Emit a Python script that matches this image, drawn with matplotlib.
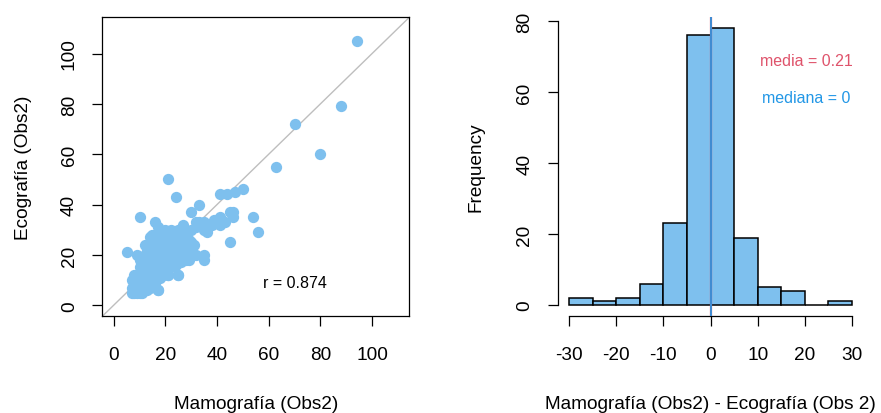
import matplotlib
matplotlib.use("Agg")
import matplotlib.pyplot as plt
import numpy as np

plt.rcParams["font.family"] = ["Liberation Sans", "DejaVu Sans"]

# Paired measurements (mm): mammography vs ultrasound, observer 2
mamografia = [
    7, 8, 9, 10, 11, 12, 8, 9, 10, 7, 11, 12, 8, 9, 10, 13, 14, 15, 13, 16,
    7, 9, 11, 12, 8, 10, 13, 14, 15, 17,
    10, 11, 12, 13, 14, 15, 16, 17, 18, 14, 15, 16, 17, 18, 19, 20, 12, 13,
    11, 12, 14, 15, 16, 17, 18, 19, 20, 21, 22, 13, 15, 16, 17, 18, 19, 20,
    21, 22, 23, 24, 11, 12, 10, 14, 16, 19, 21, 25,
    14, 15, 16, 17, 18, 19, 20, 21, 22, 23, 24, 25, 26, 18, 19, 20, 21, 22,
    23, 24, 25, 26, 27, 28, 29, 20, 22, 23, 24, 25, 26, 27, 28, 29, 30, 22,
    25, 26, 27, 28, 29, 30, 31, 24, 21, 19, 17, 16, 13, 20, 23, 18, 22, 26,
    27, 21, 24,
    12, 13, 14, 15, 16, 17, 18, 19, 20, 21, 22, 23, 24, 25, 26, 27, 20, 19,
    18, 17, 16, 15, 14, 13, 12, 11, 10, 9, 8, 23, 24, 21, 20, 19,
    15, 17, 16, 10, 5, 9, 12, 14, 30, 27, 32, 28, 32, 35, 35, 21, 25, 17,
    33, 30, 32, 33, 35, 35, 36, 38, 39, 41, 41, 43, 39, 41, 44, 47, 50, 45,
    46, 46, 54, 56, 45, 21, 24, 63, 70, 80, 88, 94,
]
ecografia = [
    5, 5, 5, 5, 5, 6, 6, 7, 7, 7, 8, 8, 9, 9, 10, 9, 7, 8, 6, 9,
    10, 11, 11, 12, 12, 13, 11, 12, 10, 6,
    15, 14, 15, 14, 15, 14, 13, 12, 11, 16, 17, 16, 17, 16, 15, 14, 17, 18,
    19, 20, 19, 20, 19, 20, 19, 18, 17, 16, 15, 22, 22, 23, 22, 21, 21, 20,
    19, 18, 17, 16, 16, 13, 18, 13, 11, 12, 12, 12,
    23, 25, 26, 25, 24, 24, 23, 22, 21, 20, 19, 18, 17, 27, 28, 27, 26, 25,
    24, 23, 22, 21, 20, 19, 18, 30, 29, 28, 27, 26, 25, 24, 23, 22, 21, 30,
    30, 29, 28, 27, 26, 25, 24, 25, 24, 22, 21, 18, 20, 25, 22, 23, 23, 23,
    26, 29, 29,
    10, 13, 10, 12, 14, 15, 14, 17, 16, 18, 20, 21, 22, 24, 24, 22, 22, 20,
    18, 18, 17, 16, 14, 16, 11, 10, 9, 8, 8, 26, 24, 21, 19, 19,
    28, 31, 33, 35, 21, 20, 24, 27, 37, 32, 33, 18, 20, 20, 18, 12, 12, 6,
    40, 30, 31, 33, 33, 30, 29, 32, 34, 35, 32, 33, 33, 44, 44, 45, 46, 37,
    37, 35, 35, 29, 25, 50, 43, 55, 72, 60, 79, 105,
]

# Histogram of differences (Mamografía - Ecografía), 5 mm bins
bin_edges = [-30, -25, -20, -15, -10, -5, 0, 5, 10, 15, 20, 25, 30]
bin_counts = [2, 1, 2, 6, 23, 76, 78, 19, 5, 4, 0, 1]
r_value = 0.874
media = 0.21
mediana = 0

sky = "#7EC0EE"
red = "#DF536B"
blue = "#2297E6"

W, H = 881, 414
fig = plt.figure(figsize=(W / 100, H / 100), dpi=100)


def px_axes(x0, y0, x1, y1):
    return fig.add_axes([x0 / W, 1 - y1 / H, (x1 - x0) / W, (y1 - y0) / H])


tick_fs = 13.7
lab_fs = 13.7
ann_fs = 11.5

# ---- Scatter plot ----
ax1 = px_axes(102.3, 18.3, 409.3, 317.3)
ax1.set_xlim(-4.4, 114.4)
ax1.set_ylim(-4.4, 114.4)
ax1.plot([-10, 130], [-10, 130], color="#BEBEBE", lw=1.0, zorder=1)
ax1.scatter(mamografia, ecografia, s=66, color=sky, linewidths=0, zorder=2)
ax1.text(70, 9, f"r = {r_value}", fontsize=ann_fs, ha="center", va="center")
ticks = [0, 20, 40, 60, 80, 100]
ax1.set_xticks(ticks)
ax1.set_yticks(ticks)
ax1.set_xticklabels([str(t) for t in ticks])
ax1.set_yticklabels([str(t) for t in ticks], rotation=90, va="center")
ax1.tick_params(axis="both", length=7.5, width=0.9, labelsize=tick_fs,
                direction="out")
ax1.tick_params(axis="x", pad=14)
ax1.tick_params(axis="y", pad=10)
for sp in ax1.spines.values():
    sp.set_linewidth(0.9)
ax1.set_xlabel("Mamografía (Obs2)", fontsize=lab_fs)
ax1.xaxis.set_label_coords(0.5, (317.3 - 405) / 299)
ax1.xaxis.label.set_verticalalignment("center")
ax1.set_ylabel("Ecografía (Obs2)", fontsize=lab_fs)
ax1.yaxis.set_label_coords((24 - 102.3) / 307, 0.5)
ax1.yaxis.label.set_verticalalignment("center")

# ---- Histogram ----
ax2 = px_axes(557.7, 18.3, 863.3, 317.0)
ax2.set_xlim(-32.4, 32.4)
ax2.set_ylim(-3.12, 81.12)
ax2.hist(bin_edges[:-1], bins=bin_edges, weights=bin_counts, color=sky,
         edgecolor="black", linewidth=1.1, zorder=2)
ax2.axvline(media, color=red, lw=1.6, zorder=3)
ax2.axvline(mediana, color=blue, lw=1.2, zorder=4)
ax2.text(20.3, 68.9, f"media = {media}", color=red, fontsize=ann_fs,
         ha="center", va="center")
ax2.text(20.3, 58.6, f"mediana = {mediana}", color=blue, fontsize=ann_fs,
         ha="center", va="center")
for s in ("top", "right"):
    ax2.spines[s].set_visible(False)
ax2.spines["left"].set_bounds(0, 80)
ax2.spines["bottom"].set_bounds(-30, 30)
for sp in ax2.spines.values():
    sp.set_linewidth(0.9)
xt = [-30, -20, -10, 0, 10, 20, 30]
yt = [0, 20, 40, 60, 80]
ax2.set_xticks(xt)
ax2.set_xticklabels([str(t) for t in xt])
ax2.set_yticks(yt)
ax2.set_yticklabels([str(t) for t in yt], rotation=90, va="center")
ax2.tick_params(axis="both", length=7.5, width=0.9, labelsize=tick_fs,
                direction="out")
ax2.tick_params(axis="x", pad=14)
ax2.tick_params(axis="y", pad=10)
ax2.set_xlabel("Mamografía (Obs2) - Ecografía (Obs 2)", fontsize=lab_fs)
ax2.xaxis.set_label_coords((710 - 557.7) / 305.6, (317 - 405) / 298.7)
ax2.xaxis.label.set_verticalalignment("center")
ax2.set_ylabel("Frequency", fontsize=lab_fs)
ax2.yaxis.set_label_coords((476 - 557.7) / 305.6, 0.5)
ax2.yaxis.label.set_verticalalignment("center")

fig.savefig("out.png", dpi=100)
